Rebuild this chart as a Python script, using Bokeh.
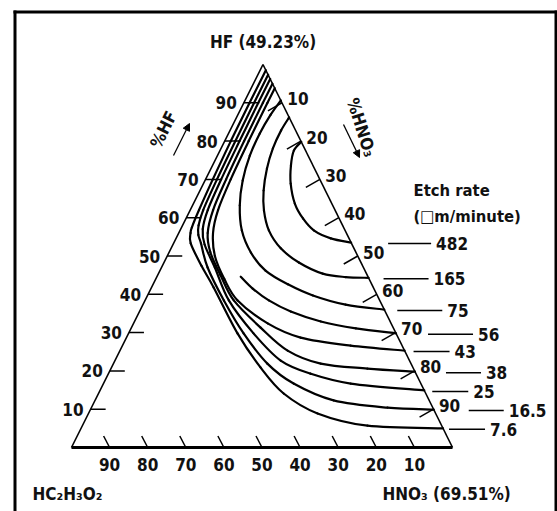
import numpy as np
from bokeh.plotting import figure
from bokeh.models import Range1d, Arrow, NormalHead
from bokeh.core.properties import value
from bokeh.embed import file_html
from bokeh.resources import INLINE

# ---------------- data ----------------
hf_ticks = [10, 20, 30, 40, 50, 60, 70, 80, 90]        # % HF, left side
hno3_ticks = [10, 20, 30, 40, 50, 60, 70, 80, 90]      # % HNO3, right side
ac_ticks = [90, 80, 70, 60, 50, 40, 30, 20, 10]        # % HC2H3O2, base

rate_labels = ["482", "165", "75", "56", "43", "38", "25", "16.5", "7.6"]

# iso-etch contours as (HF %, HNO3 %) compositions
c482_hf = [79.8, 77.5, 73.6, 68.9, 63.7, 59.8, 56.7, 54.6, 53.5]
c482_hno3 = [20.2, 19.4, 20.6, 22.9, 26.6, 30.7, 35.1, 40.6, 46.5]

c165_hf = [86.2, 82.8, 78.1, 72.8, 67.1, 61.9, 56.7, 52.0, 48.3, 45.4, 44.5, 44.3]
c165_hno3 = [13.8, 13.4, 13.6, 14.7, 16.7, 19.4, 23.3, 28.8, 35.4, 43.1, 49.6, 55.7]

c75_hf = [90.6, 86.9, 82.0, 76.2, 69.7, 63.2, 56.7, 50.9, 46.2, 42.6, 39.7, 37.3, 36.0]
c75_hno3 = [9.4, 8.6, 8.2, 8.5, 9.9, 12.4, 16.2, 21.5, 27.7, 35.4, 43.4, 53.2, 64.0]

c56_hf = [44.6, 41.5, 38.4, 35.5, 32.9, 31.1, 29.8]
c56_hno3 = [22.0, 26.7, 32.5, 39.7, 48.9, 59.0, 70.2]

c43_hf = [93.8, 90, 80, 70, 62, 56, 50, 44, 38.4, 32.4, 28.7, 26.6, 25.3]
c43_hno3 = [6.2, 6.2, 6.3, 6.6, 7.3, 9.0, 12.5, 18.0, 24.3, 35.2, 45.7, 59.9, 74.7]

c38_hf = [95, 90, 80, 70, 62, 56, 51, 45, 38.4, 31.3, 25.3, 21.9, 20.6, 19.8]
c38_hno3 = [5.0, 5.0, 5.1, 5.4, 6.0, 7.6, 10.8, 16.5, 23.3, 33.9, 44.0, 54.4, 67.3, 80.2]

c25_hf = [96.2, 90, 80, 70, 62, 57, 53, 47, 38.4, 29.8, 22.7, 19.3, 16.7, 14.9]
c25_hno3 = [3.8, 3.8, 3.9, 4.1, 4.6, 5.8, 8.3, 14.0, 22.0, 32.8, 43.5, 53.0, 64.9, 85.1]

c16_5_hf = [97.3, 90, 80, 70, 62, 58, 55.5, 53.3, 47, 38.4, 29.8, 21.9, 16.7, 12.3, 10.4, 9.9]
c16_5_hno3 = [2.7, 2.7, 2.8, 3.0, 3.4, 4.2, 5.4, 7.2, 12.1, 20.7, 30.2, 40.4, 49.9, 62.6, 77.7, 90.1]

c7_6_hf = [98.5, 90, 80, 70, 62, 57.5, 56, 53.3, 47.5, 41.8, 29.8, 20.9, 14.1, 8.9, 5.7, 5.0]
c7_6_hno3 = [1.5, 1.5, 1.6, 1.9, 2.3, 2.7, 3.1, 4.5, 10.2, 16.3, 28.6, 39.1, 48.6, 60.1, 74.8, 95.0]

contours = [
    (c482_hf, c482_hno3), (c165_hf, c165_hno3), (c75_hf, c75_hno3),
    (c56_hf, c56_hno3), (c43_hf, c43_hno3), (c38_hf, c38_hno3),
    (c25_hf, c25_hno3), (c16_5_hf, c16_5_hno3), (c7_6_hf, c7_6_hno3),
]

# ---------------- layout / style ----------------
FONT = value("'Liberation Sans Narrow', 'DejaVu Sans Condensed', 'Arial Narrow', sans-serif")
W, HT = 557, 511
H = float(HT)  # data y = H - screen y

# triangle corners in screen pixels
L = (71.0, 447.0)
R = (452.0, 447.0)
A = (262.5, 64.0)

leader_gap = [37, 15, 13, 32, 9, 31, 8, 35, 6]
leader_len = [43, 45, 45, 45, 36, 35, 36, 35, 36]


def tern(hf, hno3):
    f = np.asarray(hf, dtype=float) / 100.0
    n = np.asarray(hno3, dtype=float) / 100.0
    a = 1.0 - f - n
    x = a * L[0] + n * R[0] + f * A[0]
    ys = a * L[1] + n * R[1] + f * A[1]
    return x, H - ys


p = figure(width=W, height=HT, output_backend="svg", toolbar_location=None,
           x_range=Range1d(0, W), y_range=Range1d(0, HT), min_border=0)
p.axis.visible = False
p.grid.visible = False
p.outline_line_color = None
p.background_fill_color = "white"
p.border_fill_color = "white"

# frame
p.line([14.5, 14.5], [H - 10, -10], line_color="black", line_width=3)
p.line([13, 557], [H - 11.5, H - 11.5], line_color="black", line_width=3)
p.line([555.5, 555.5], [H - 10, -10], line_color="black", line_width=3)

# triangle edges
ex, ey = tern([100, 0], [0, 0])
p.line(ex, ey, line_color="black", line_width=1.6)
ex, ey = tern([100, 0], [0, 100])
p.line(ex, ey, line_color="black", line_width=1.6)
ex, ey = tern([0, 0], [0, 100])
p.line(ex, ey, line_color="black", line_width=3)

txt = dict(text_font=FONT, text_font_style="bold", text_color="#111111")
TICK_FS = value("17px")

# left ticks (%HF): horizontal, pointing inward
tx, ty = tern(hf_ticks, [0] * len(hf_ticks))
p.segment(tx, ty, tx + 15, ty, line_color="black", line_width=1.5)
p.text(tx - 7, ty, text=[str(v) for v in hf_ticks], text_align="right",
       text_baseline="middle", text_font_size=TICK_FS, **txt)

# right ticks (%HNO3): perpendicular to the edge
rx, ry = tern([100 - v for v in hno3_ticks], hno3_ticks)
p.segment(rx, ry, rx - 14, ry - 8, line_color="black", line_width=1.5)
p.text(rx + 16, ry + 4, text=[str(v) for v in hno3_ticks], text_align="center",
       text_baseline="middle", text_font_size=TICK_FS, **txt)

# base ticks (% HC2H3O2)
bx, by = tern([0] * len(ac_ticks), [100 - v for v in ac_ticks])
p.segment(bx, by, bx - 6, by + 11.5, line_color="black", line_width=1.5)
p.text(bx, by - 17, text=[str(v) for v in ac_ticks], text_align="center",
       text_baseline="middle", text_font_size=TICK_FS, **txt)


def smooth_bezier(x, y):
    """Cubic Bezier pieces through the read points (Catmull-Rom control points)."""
    x = np.asarray(x); y = np.asarray(y)
    xp = np.concatenate([[x[0]], x, [x[-1]]])
    yp = np.concatenate([[y[0]], y, [y[-1]]])
    n = len(x) - 1
    x0 = xp[1:n + 1]; y0 = yp[1:n + 1]
    x1 = xp[2:n + 2]; y1 = yp[2:n + 2]
    cx0 = x0 + (xp[2:n + 2] - xp[0:n]) / 6.0
    cy0 = y0 + (yp[2:n + 2] - yp[0:n]) / 6.0
    cx1 = x1 - (xp[3:n + 3] - xp[1:n + 1]) / 6.0
    cy1 = y1 - (yp[3:n + 3] - yp[1:n + 1]) / 6.0
    return dict(x0=x0, y0=y0, x1=x1, y1=y1, cx0=cx0, cy0=cy0, cx1=cx1, cy1=cy1)


# contours
for hf, n in contours:
    cx, cy = tern(hf, n)
    p.bezier(**smooth_bezier(cx, cy), line_color="black", line_width=2.2, line_cap="round")

# leaders and rate labels
for (hf, n), lab, g, ln in zip(contours, rate_labels, leader_gap, leader_len):
    cx, cy = tern(hf[-1:], n[-1:])
    x0 = float(cx[0]) + g
    yy = float(cy[0]) - 1
    p.line([x0, x0 + ln], [yy, yy], line_color="black", line_width=1.5)
    p.text([x0 + ln + 5], [yy], text=[lab], text_align="left", text_baseline="middle",
           text_font_size=value("17px"), **txt)

# corner and axis titles
LAB_FS = value("17px")
p.text([262.5], [H - 41], text=["HF (49.23%)"], text_align="center", text_baseline="middle",
       text_font_size=LAB_FS, **txt)
p.text([32], [H - 493], text=["HC\u2082H\u2083O\u2082"], text_align="left", text_baseline="middle",
       text_font_size=LAB_FS, **txt)
p.text([382], [H - 493], text=["HNO\u2083 (69.51%)"], text_align="left", text_baseline="middle",
       text_font_size=LAB_FS, **txt)
p.text([413], [H - 190], text=["Etch rate"], text_align="left", text_baseline="middle",
       text_font_size=value("16.5px"), **txt)
p.text([413], [H - 216], text=["(\u25a1m/minute)"], text_align="left", text_baseline="middle",
       text_font_size=value("16.5px"), **txt)

ang = np.arctan2(L[1] - A[1], A[0] - L[0])
p.text([163], [H - 129], text=["%HF"], angle=[ang], text_align="center", text_baseline="middle",
       text_font_size=LAB_FS, **txt)
p.text([361], [H - 127], text=["%HNO\u2083"], angle=[-np.radians(72)],
       text_align="center", text_baseline="middle", text_font_size=LAB_FS, **txt)

p.add_layout(Arrow(x_start=173, y_start=H - 155, x_end=189, y_end=H - 123,
                   line_width=1.3, end=NormalHead(size=7, fill_color="black", line_color="black")))
p.add_layout(Arrow(x_start=343, y_start=H - 124, x_end=359, y_end=H - 157,
                   line_width=1.3, end=NormalHead(size=7, fill_color="black", line_color="black")))

open("out.html", "w").write(file_html(p, INLINE))
